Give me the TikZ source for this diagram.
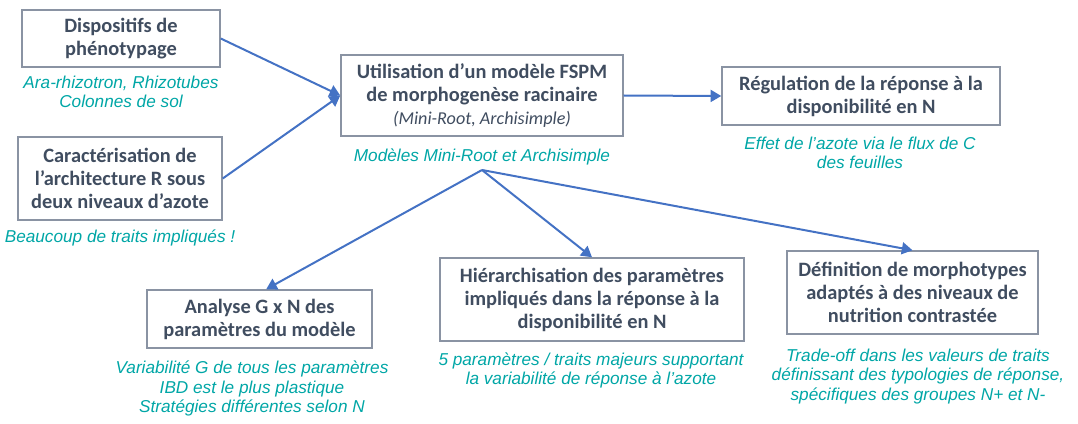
\documentclass[tikz,border=0pt]{standalone}
\usepackage{fontspec}
\usetikzlibrary{arrows.meta}
\newfontfamily\boxfont{Carlito}
\newfontfamily\notefont{Liberation Sans}
\definecolor{boxtext}{HTML}{404D60}
\definecolor{boxline}{HTML}{8A93A3}
\definecolor{arrowblue}{HTML}{4472C4}
\definecolor{noteteal}{HTML}{00A6A6}

\begin{document}
\begin{tikzpicture}[x=0.75pt,y=-0.75pt,
    box/.style={rectangle,draw=boxline,line width=1.1pt,fill=white,inner sep=0pt,align=center,text=boxtext,font=\boxfont\bfseries\fontsize{15.3}{17.3}\selectfont},
    note/.style={align=center,text=noteteal,inner sep=0pt,font=\notefont\itshape\fontsize{12.9}{14.4}\selectfont},
    link/.style={draw=arrowblue,line width=1.5pt,-{Triangle[length=8pt,width=9pt]}}]
    \useasboundingbox (0,0) rectangle (1078,424);

    \node[box,minimum width=148.5pt,minimum height=42.75pt] (disp) at (121,38.5) {Dispositifs de\\phénotypage};
    \node[box,minimum width=153pt,minimum height=62.25pt] (carac) at (120,178.5) {Caractérisation de\\l’architecture R sous\\deux niveaux d’azote};
    \node[box,minimum width=211.5pt,minimum height=60.75pt] (fspm) at (482,95.5) {Utilisation d’un modèle FSPM\\de morphogenèse racinaire\\{\mdseries\itshape\fontsize{13.6}{17.3}\selectfont (Mini-Root, Archisimple)}};
    \node[box,minimum width=208.5pt,minimum height=43.5pt] (regul) at (861,96) {Régulation de la réponse à la\\disponibilité en N};
    \node[box,minimum width=168.75pt,minimum height=43.5pt] (gxn) at (259.5,319) {Analyse G x N des\\paramètres du modèle};
    \node[box,minimum width=228pt,minimum height=62.25pt] (hier) at (592,299.5) {Hiérarchisation des paramètres\\impliqués dans la réponse à la\\disponibilité en N};
    \node[box,minimum width=188.25pt,minimum height=62.25pt] (defn) at (912.5,292.5) {Définition de morphotypes\\adaptés à des niveaux de\\nutrition contrastée};

    \node[note] (dispnote) at (121,92) {Ara-rhizotron, Rhizotubes\\Colonnes de sol};
    \node[note] (caracnote) at (120,238) {Beaucoup de traits impliqués !};
    \node[note] (fspmnote) at (482,157) {Modèles Mini-Root et Archisimple};
    \node[note] (regulnote) at (860,153) {Effet de l’azote via le flux de C\\des feuilles};
    \node[note] (gxnnote) at (252,388.5) {Variabilité G de tous les paramètres\\IBD est le plus plastique\\Stratégies différentes selon N};
    \node[note] (hiernote) at (591,370.5) {5 paramètres / traits majeurs supportant\\la variabilité de réponse à l’azote};
    \node[note] (defnnote) at (918,376.5) {Trade-off dans les valeurs de traits\\définissant des typologies de réponse,\\spécifiques des groupes N+ et N-};

    \draw[link] (disp.east) -- (fspm.west);
    \draw[link] (carac.east) -- (fspm.west);
    \draw[link] (fspm.east) -- (regul.west);

    \coordinate (fork) at (482,170);
    \draw[link] (fork) -- ([xshift=5pt]gxn.north);
    \draw[link] (fork) -- (hier.north);
    \draw[link] (fork) -- (defn.north);
\end{tikzpicture}
\end{document}
